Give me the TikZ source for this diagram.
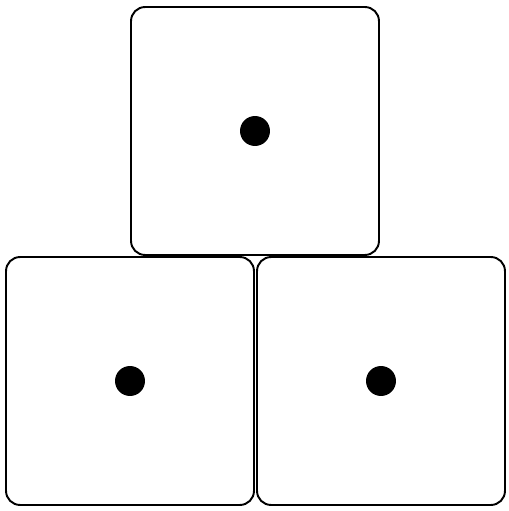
\documentclass[tikz,border=0pt]{standalone}
\usetikzlibrary{positioning}

\begin{document}
\begin{tikzpicture}[x=0.02cm, y=0.02cm,
                      face/.style = {shape=rectangle, rounded corners=8,
                        draw, line width=1.1pt, minimum size=4.96cm},
                      pip/.style = {shape=circle, fill=black,
                        minimum size=0.6cm, inner sep=0pt}]
  \useasboundingbox (0,0) rectangle (508,511);
  \node[face] (top) at (255,380) {};
  \node[face] (left) at (130,130) {};
  \node[face] (right) at (381,130) {};
  \node[pip] (toppip) at (top.center) {};
  \node[pip] (leftpip) at (left.center) {};
  \node[pip] (rightpip) at (right.center) {};
\end{tikzpicture}
\end{document}
